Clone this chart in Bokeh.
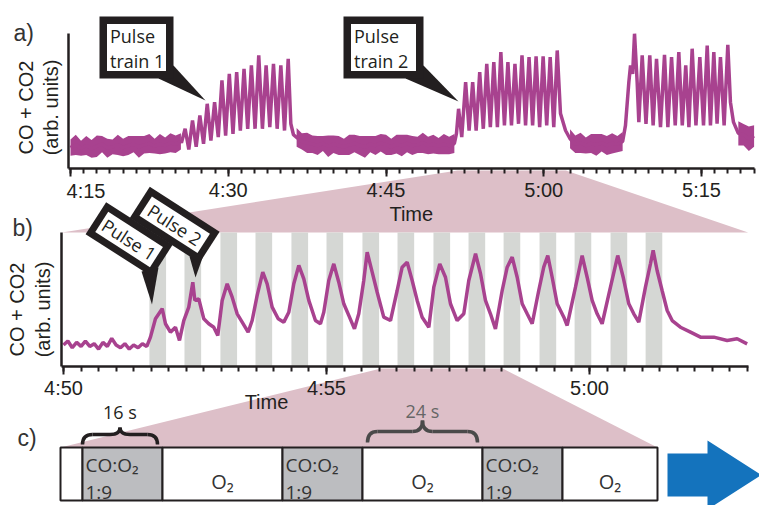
import math
from bokeh.plotting import figure
from bokeh.models import Range1d, LinearAxis, FixedTicker
from bokeh.core.properties import value
from bokeh.embed import file_html
from bokeh.resources import INLINE

W, H = 759, 505

# ---------------- data ----------------
# panel a : time in minutes after 4:00, signal in arb. units
a_ticks = [15, 30, 45, 60, 75]
a_tick_labels = ["4:15", "4:30", "4:45", "5:00", "5:15"]

# flat (noisy) stretches: centre value and half-spread of the noise band
a_base1_t = [15.0, 15.5, 16.0, 16.5, 17.0, 17.5, 18.0, 18.5, 19.0, 19.5, 20.0,
             20.5, 21.0, 21.5, 22.0, 22.5, 23.0, 23.5, 24.0, 24.5, 25.0, 25.5]
a_base1_v = [1.55, 1.75, 1.5, 1.7, 1.45, 1.65, 1.8, 1.5, 1.6, 1.75, 1.55,
             1.7, 1.8, 1.6, 1.75, 1.85, 1.65, 1.8, 1.7, 1.9, 1.8, 2.0]
a_base1_s = [0.6, 0.75, 0.55, 0.7, 0.65, 0.8, 0.6, 0.7, 0.55, 0.75, 0.65,
             0.7, 0.6, 0.8, 0.65, 0.7, 0.55, 0.75, 0.6, 0.7, 0.65, 0.6]

a_train1_t = [25.55, 25.9, 26.25, 26.6, 26.95, 27.3, 27.65, 28.0, 28.35, 28.7,
              29.05, 29.4, 29.75, 30.1, 30.45, 30.8, 31.15, 31.5, 31.85, 32.2,
              32.55, 32.9, 33.25, 33.6, 33.95, 34.3, 34.65, 35.0, 35.35, 35.7,
              35.95, 36.2]
a_train1_v = [1.9, 2.94, 1.4, 3.56, 1.6, 3.93, 1.83, 4.79, 2.07, 4.91,
              2.32, 6.52, 2.44, 7.01, 2.57, 7.14, 2.81, 7.38, 2.94, 7.63,
              2.94, 8.37, 2.94, 7.63, 3.06, 7.75, 2.94, 7.63, 2.81, 8.12,
              3.31, 2.5]

a_base2_t = [36.5, 37.0, 37.5, 38.0, 38.5, 39.0, 39.5, 40.0, 40.5, 41.0, 41.5,
             42.0, 42.5, 43.0, 43.5, 44.0, 44.5, 45.0, 45.5, 46.0, 46.5, 47.0,
             47.5, 48.0, 48.5, 49.0, 49.5, 50.0, 50.5, 51.0, 51.5]
a_base2_v = [2.3, 2.0, 1.9, 1.8, 1.7, 1.85, 1.65, 1.8, 1.7, 1.6, 1.75,
             1.85, 1.7, 1.6, 1.8, 1.7, 1.9, 1.75, 1.6, 1.8, 1.7, 1.85,
             1.7, 1.75, 1.9, 1.7, 1.8, 1.65, 1.8, 1.7, 1.85]
a_base2_s = [0.7, 0.6, 0.75, 0.65, 0.7, 0.55, 0.8, 0.65, 0.7, 0.6, 0.75,
             0.65, 0.7, 0.8, 0.6, 0.7, 0.65, 0.75, 0.6, 0.7, 0.8, 0.65,
             0.7, 0.6, 0.75, 0.65, 0.7, 0.6, 0.75, 0.65, 0.7]

a_train2_t = [51.7, 51.9, 52.2, 52.57, 52.9, 53.24, 53.57, 53.91, 54.25, 54.58,
              54.92, 55.25, 55.59, 55.92, 56.26, 56.59, 56.93, 57.26, 57.6, 57.93,
              58.27, 58.6, 58.94, 59.27, 59.61, 59.94, 60.28, 60.61, 60.95, 61.28,
              61.59, 62.07]
a_train2_v = [2.6, 4.42, 2.32, 6.39, 2.81, 6.39, 2.81, 7.14, 2.94, 7.75,
              3.06, 7.88, 3.06, 8.62, 3.19, 7.88, 3.19, 7.75, 3.31, 8.37,
              3.19, 8.25, 3.19, 8.3, 3.06, 8.3, 3.19, 8.25, 3.06, 8.74,
              4.07, 2.81]

a_base3_t = [62.5, 63.0, 63.5, 64.0, 64.5, 65.0, 65.5, 66.0, 66.5, 67.0, 67.5]
a_base3_v = [2.2, 1.8, 1.9, 1.7, 1.85, 1.75, 1.9, 1.7, 1.85, 1.8, 2.0]
a_base3_s = [0.7, 0.65, 0.75, 0.6, 0.7, 0.8, 0.65, 0.7, 0.75, 0.6, 0.7]

a_train3_t = [67.77, 68.09, 68.25, 68.45, 68.63, 68.88, 69.04, 69.36, 69.72, 70.08,
              70.4, 70.72, 71.1, 71.48, 71.8, 72.15, 72.5, 72.84, 73.17, 73.5,
              73.8, 74.11, 74.47, 74.84, 75.19, 75.54, 75.85, 76.17, 76.48, 76.8,
              77.15, 77.5, 77.75, 78.04]
a_train3_v = [3.19, 6.39, 7.63, 7.0, 9.98, 6.39, 3.43, 8.37, 3.31, 8.37,
              3.19, 8.12, 3.06, 8.42, 3.06, 8.25, 3.19, 8.62, 3.19, 7.63,
              3.06, 8.87, 3.19, 8.25, 3.19, 9.11, 3.19, 8.62, 3.31, 8.25,
              3.19, 9.16, 4.91, 3.43]

a_base4_t = [78.5, 79.0, 79.5, 80.0]
a_base4_v = [2.6, 2.5, 2.2, 2.4]
a_base4_s = [0.9, 0.8, 0.9, 0.8]

# panel b : seconds after 4:50:00
b_ticks = [0, 300, 600]
b_tick_labels = ["4:50", "4:55", "5:00"]
b_pulse_start = [98, 138, 179, 219, 260, 300, 341, 381, 422, 462, 502, 543, 583, 624, 664]
b_pulse_width = 19

b_sec = [0, 5, 10, 15, 20, 25, 30, 35, 40, 45, 50, 55, 60, 65, 70, 75, 80, 85, 90, 95,
         99.2, 104.9, 112.6, 116.3, 122, 127.7, 132.3,
         137.2, 142.9, 147.5, 149.8, 154.3, 160, 165.7, 171.4, 176,
         181, 186.7, 192.4, 198.1, 203.8, 210.6,
         215.2, 220.9, 227.3, 232.3, 238, 244.9, 251.3,
         257, 262.7, 268.4, 274.1, 279.8, 287.4, 293.1,
         296.9, 302.6, 308.3, 314, 319.7, 325.4, 331.9,
         336.8, 342.5, 346.4, 352.1, 357.8, 365.3, 373,
         380.6, 386.3, 392, 397.7, 403.4, 409.1, 416.7,
         422.4, 429.2, 435.7, 441.4, 449, 456.6,
         462.3, 470, 475.7, 481.3, 487, 492.7,
         500.4, 506.1, 511.8, 517.5, 523.2, 528.9, 534.6,
         542.1, 547.8, 552.4, 557.4, 563.1, 570.7, 574.5,
         584, 591.6, 597.3, 603, 608.7, 614.4,
         623.9, 632.2, 638.4, 644.8, 650.5, 656.2,
         663.8, 669.5, 672.6, 677.1, 682.8, 688.6, 694.3, 703.7, 715.2, 726.6,
         741.8, 757, 768.4, 779.8]
b_val = [1.6, 1.9, 1.4, 1.8, 1.5, 1.9, 1.5, 1.7, 1.3, 1.8, 1.5, 2.1, 1.6, 1.4, 1.7, 1.3, 1.6, 1.4, 1.7, 1.5,
         2.19, 3.56, 4.31, 3.19, 2.56, 2.93, 1.94,
         3.43, 4.43, 6.29, 4.93, 5.05, 3.56, 3.19, 2.93, 2.31,
         4.93, 6.17, 5.17, 3.93, 3.31, 2.56,
         3.43, 5.30, 7.04, 6.17, 4.43, 3.56, 3.31,
         4.05, 6.17, 7.54, 6.54, 4.93, 3.43, 3.19,
         4.05, 6.42, 7.66, 6.29, 4.68, 3.81, 2.81,
         3.93, 6.42, 8.53, 7.04, 5.54, 3.68, 3.43,
         5.67, 7.41, 7.78, 6.42, 4.93, 3.68, 2.93,
         5.92, 7.66, 6.66, 4.68, 3.43, 3.93,
         6.42, 8.41, 6.92, 4.93, 3.93, 2.81,
         5.67, 7.41, 8.16, 6.66, 4.68, 3.93, 3.19,
         5.67, 7.41, 8.28, 6.66, 4.68, 3.68, 3.06,
         5.92, 8.28, 6.66, 4.93, 3.93, 3.19,
         5.92, 8.28, 6.66, 4.68, 3.93, 3.31,
         5.92, 7.66, 8.66, 7.16, 5.67, 4.18, 3.43, 2.93, 2.56, 2.19,
         2.19, 1.94, 2.07, 1.69]

# panel c : gas sequence, seconds
c_start = [-4.4, 0, 16, 40, 56, 80, 96]
c_end = [0, 16, 40, 56, 80, 96, 115]
c_gas = ["O2", "CO", "O2", "CO", "O2", "CO", "O2"]
c_brace_16 = (0, 15)
c_brace_24 = (57, 79)

# ---------------- styling ----------------
TRACE = "#a8428f"
PINK = "#ddbfc8"
BAND = "#d5d7d4"
DARK = "#231f20"
CGRAY = "#bcbdc0"
BLUE = "#1473bd"
SANS = "Liberation Sans"
MYR = "Open Sans"

XA = (8.344, 80.513)
YA = (-24.96, 12.44)
XB = (-71.86, 793.9)
YB = (-10.373, 27.31)
XC = (-16.4, 135.4)


def px(v, r):
    return (v - r[0]) / (r[1] - r[0]) * W


def py(v, r):
    return (r[1] - v) / (r[1] - r[0]) * H


p = figure(width=W, height=H, x_range=Range1d(0, W), y_range=Range1d(H, 0),
           output_backend="svg", toolbar_location=None,
           x_axis_location=None, y_axis_location=None, min_border=0,
           outline_line_color=None, background_fill_color="white",
           border_fill_color="white")
p.extra_x_ranges = {"ta": Range1d(*XA), "sb": Range1d(*XB), "sc": Range1d(*XC)}
p.extra_y_ranges = {"va": Range1d(*YA), "vb": Range1d(*YB)}
p.grid.visible = False

# zoom connectors
z1x = [px(51.8, XA), px(62.1, XA), px(781, XB), px(-2, XB)]
z1y = [py(0, YA) + 2, py(0, YA) + 2, py(10, YB), py(10, YB)]
p.patch(z1x, z1y, fill_color=PINK, line_color=None, level="underlay")
z2x = [px(362, XB), px(501, XB), px(c_end[-1], XC), px(c_start[0], XC)]
z2y = [py(0, YB) + 2, py(0, YB) + 2, 447, 447]
p.patch(z2x, z2y, fill_color=PINK, line_color=None, level="underlay")

# panel a: noise bands of the flat stretches + full trace
for bt, bv, bs in [(a_base1_t, a_base1_v, a_base1_s), (a_base2_t, a_base2_v, a_base2_s),
                   (a_base3_t, a_base3_v, a_base3_s), (a_base4_t, a_base4_v, a_base4_s)]:
    p.varea(x=bt, y1=[v - s for v, s in zip(bv, bs)], y2=[v + s for v, s in zip(bv, bs)],
            x_range_name="ta", y_range_name="va", fill_color=TRACE)
a_all_t = a_base1_t + a_train1_t + a_base2_t + a_train2_t + a_base3_t + a_train3_t + a_base4_t
a_all_v = a_base1_v + a_train1_v + a_base2_v + a_train2_v + a_base3_v + a_train3_v + a_base4_v
p.line(a_all_t, a_all_v, x_range_name="ta", y_range_name="va",
       line_color=TRACE, line_width=3.5)

# panel b bands + trace
p.quad(left=b_pulse_start, right=[s + b_pulse_width for s in b_pulse_start],
       bottom=0, top=10, x_range_name="sb", y_range_name="vb",
       fill_color=BAND, line_color=None)
p.line(b_sec, b_val, x_range_name="sb", y_range_name="vb",
       line_color=TRACE, line_width=3.5)


def time_axis(xr, yr, ticks, labels, minors, bounds):
    ov = {t: l for t, l in zip(ticks, labels)}
    ax = LinearAxis(x_range_name=xr, y_range_name=yr, fixed_location=0,
                    bounds=bounds,
                    ticker=FixedTicker(ticks=ticks, minor_ticks=minors),
                    major_label_overrides=ov,
                    axis_line_color=DARK, axis_line_width=2.5,
                    major_tick_line_color=DARK, major_tick_line_width=2,
                    minor_tick_line_color=DARK, minor_tick_line_width=2,
                    major_tick_in=0, major_tick_out=8,
                    minor_tick_in=0, minor_tick_out=5,
                    major_label_standoff=3,
                    major_label_text_font=SANS,
                    major_label_text_font_size="20px",
                    major_label_text_color=DARK)
    p.add_layout(ax, "below")


def value_axis(xr, yr, loc):
    ax = LinearAxis(x_range_name=xr, y_range_name=yr, fixed_location=loc,
                    bounds=(0, 10), ticker=FixedTicker(ticks=[]),
                    axis_line_color=DARK, axis_line_width=2.5,
                    major_tick_line_color=None, minor_tick_line_color=None,
                    major_label_text_font_size="0px")
    p.add_layout(ax, "left")


a_minor = [15 + 1.25 * k for k in range(53)]
time_axis("ta", "va", a_ticks, [""] + a_tick_labels[1:], a_minor, (14.81, 80.0))
value_axis("ta", "va", 14.81)
b_minor = [20 * k for k in range(40)]
time_axis("sb", "vb", b_ticks, b_tick_labels, b_minor, (-2, 781))
value_axis("sb", "vb", -2)


def txt(x, y, s, size, font=SANS, color=DARK, align="center", baseline="middle",
        angle=0.0, xr="default", yr="default", level="overlay"):
    p.text(x=[x], y=[y], text=[s], text_font=value(font), text_font_size=size,
           text_color=color, text_align=align, text_baseline=baseline,
           angle=angle, x_range_name=xr, y_range_name=yr, level=level)


# first tick label of panel a (left aligned in the original)
txt(px(14.81, XA) - 2, 190, a_tick_labels[0], "20px", align="left")
txt(px(47.4, XA), 213, "Time", "20px")
txt(266, 401, "Time", "20px")

# y labels
txt(25, 107, "CO + CO2", "20px", angle=math.pi / 2)
txt(50, 107, "(arb. units)", "20px", angle=math.pi / 2)
txt(16, 309, "CO + CO2", "20px", angle=math.pi / 2)
txt(42, 309, "(arb. units)", "20px", angle=math.pi / 2)

# panel letters
txt(13, 32, "a)", "23px", align="left", color="#333333")
txt(12, 227, "b)", "23px", align="left", color="#333333")
txt(17, 437, "c)", "23px", align="left", color="#333333")


# callouts in panel a
def flat_callout(x0, y0, x1, y1, ptr, lines):
    p.patch([q[0] for q in ptr], [q[1] for q in ptr], fill_color=DARK,
            line_color=None, level="overlay")
    p.quad(left=[x0], right=[x1], top=[y0], bottom=[y1], fill_color=DARK,
           line_color=None, level="overlay")
    p.quad(left=[x0 + 7.5], right=[x1 - 7.5], top=[y0 + 7.5], bottom=[y1 - 7.5],
           fill_color="white", line_color=None, level="overlay")
    for i, s in enumerate(lines):
        txt(x0 + 10.5, y0 + 19.5 + 25 * i, s, "18px", font=MYR, align="left")


flat_callout(99, 16, 173, 78, [(158, 78), (173, 65), (205, 100)], ["Pulse", "train 1"])
flat_callout(343, 16, 423, 78, [(405, 78), (423, 65), (458, 101)], ["Pulse", "train 2"])


# rotated callouts in panel b
def rot_callout(cx, cy, L, Hh, deg, ptr, label):
    th = math.radians(deg)
    ux, uy = math.cos(th), math.sin(th)
    vx, vy = -math.sin(th), math.cos(th)

    def corners(l, h):
        pts = [(-l / 2, -h / 2), (l / 2, -h / 2), (l / 2, h / 2), (-l / 2, h / 2)]
        return ([cx + a * ux + b * vx for a, b in pts],
                [cy + a * uy + b * vy for a, b in pts])

    p.patch([q[0] for q in ptr], [q[1] for q in ptr], fill_color=DARK,
            line_color=None, level="overlay")
    xs, ys = corners(L, Hh)
    p.patch(xs, ys, fill_color=DARK, line_color=None, level="overlay")
    xs, ys = corners(L - 14, Hh - 14)
    p.patch(xs, ys, fill_color="white", line_color=None, level="overlay")
    txt(cx, cy, label, "18px", font=MYR, angle=-th)


rot_callout(174.2, 224.3, 83, 37, 32.7, [(189, 256), (205, 249), (195, 277)], "Pulse 2")
rot_callout(128.6, 239, 79, 38, 32.7, [(141, 271), (158, 267), (151.5, 304)], "Pulse 1")

# panel c boxes
fills = [CGRAY if g == "CO" else "white" for g in c_gas]
p.quad(left=c_start, right=c_end, top=447, bottom=500, x_range_name="sc",
       fill_color=fills, line_color=DARK, line_width=2)
for s0, s1, g in zip(c_start, c_end, c_gas):
    if g == "CO":
        txt(s0 + 0.6, 464, "CO:O₂", "19px", font=MYR, color="#333333",
            align="left", xr="sc")
        txt(s0 + 0.6, 491, "1:9", "19px", font=MYR, color="#333333",
            align="left", xr="sc")
    elif s1 - s0 > 10:
        txt((s0 + s1) / 2, 481, "O₂", "20px", font=MYR, color="#333333", xr="sc")


def brace(s0, s1, yend, yline, ypeak, color, r=2.0):
    mid = (s0 + s1) / 2
    kw = dict(x_range_name="sc", line_color=color, line_width=3.5)
    p.quadratic(x0=[s0, mid - r, mid, s1 - r], y0=[yend, yline, ypeak, yline],
                x1=[s0 + r, mid, mid + r, s1], y1=[yline, ypeak, yline, yend],
                cx=[s0, mid, mid, s1], cy=[yline, yline, yline, yline], **kw)
    p.segment(x0=[s0 + r, mid + r], y0=[yline, yline], x1=[mid - r, s1 - r],
              y1=[yline, yline], **kw)


brace(*c_brace_16, 444, 434, 427, DARK)
brace(*c_brace_24, 442, 431, 420, "#4a4a4a")
txt(sum(c_brace_16) / 2, 411, "16 s", "18px", font=MYR, xr="sc")
txt(sum(c_brace_24) / 2, 410, "24 s", "18px", font=MYR, color="#666666", xr="sc")

# blue arrow
p.patch([667, 707, 707, 761, 707, 707, 667], [453, 453, 440, 474.5, 509, 496, 496],
        fill_color=BLUE, line_color=None)

open("out.html", "w").write(file_html(p, INLINE))
